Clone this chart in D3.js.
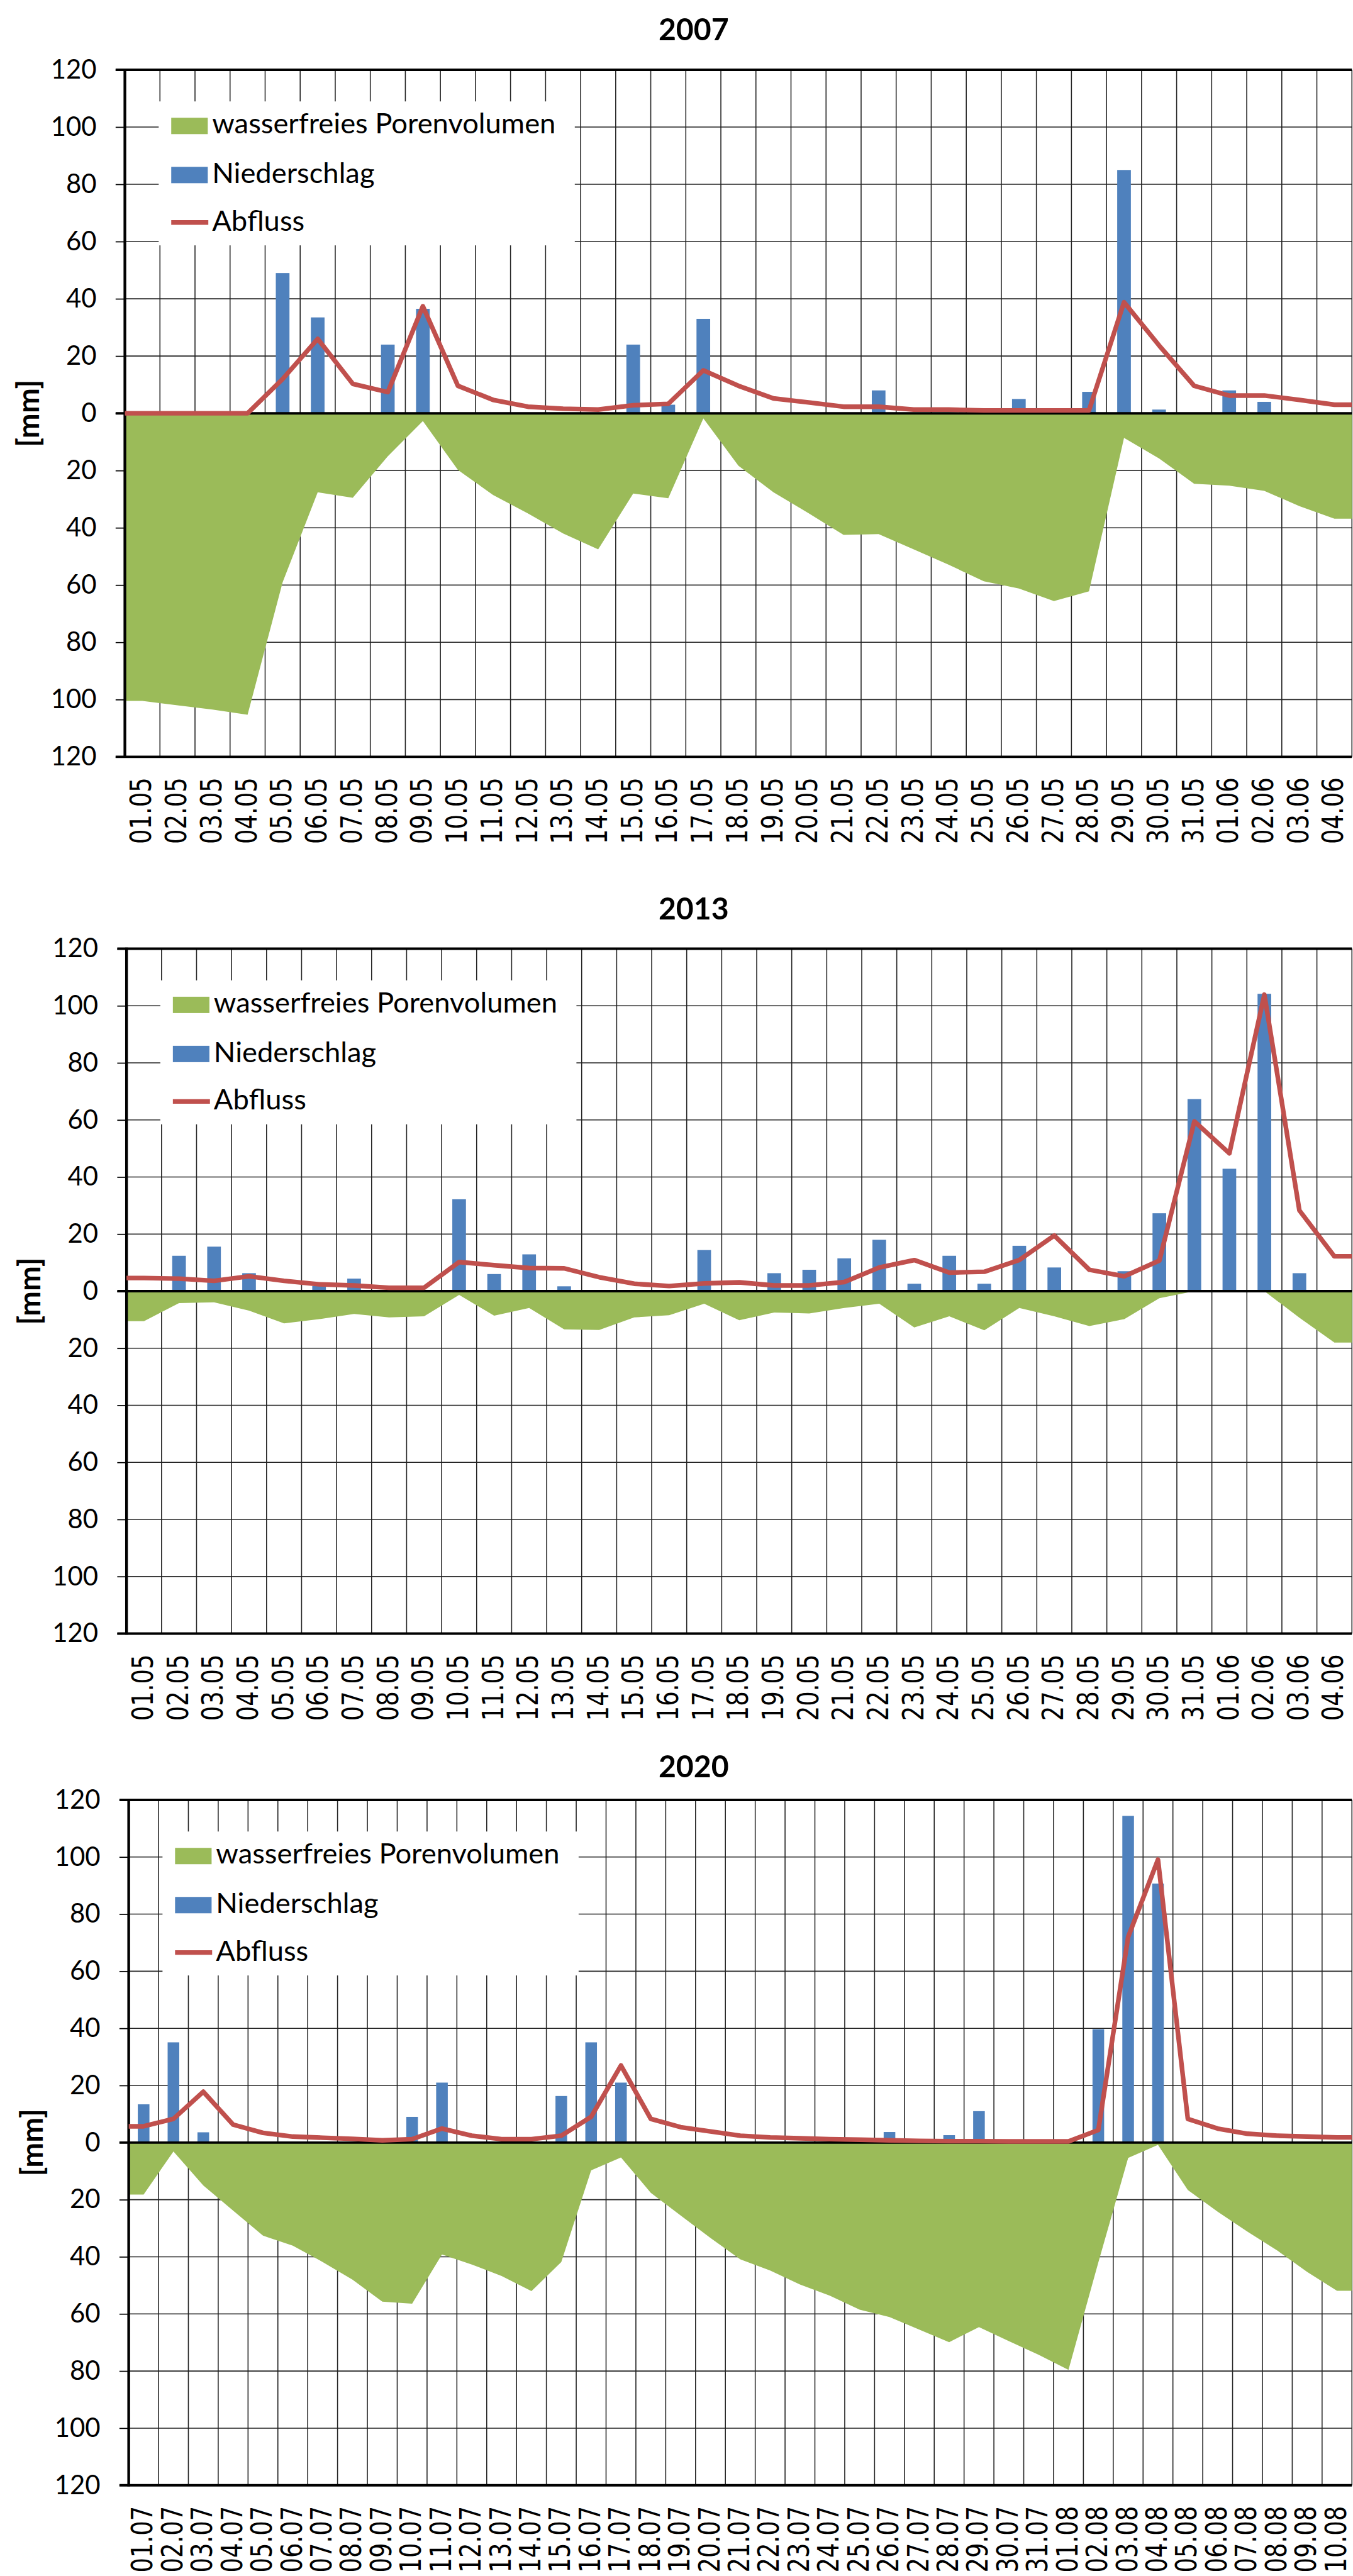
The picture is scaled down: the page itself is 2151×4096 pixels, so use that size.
<!DOCTYPE html>
<html><head><meta charset="utf-8">
<script src="https://cdn.jsdelivr.net/npm/d3@7/dist/d3.min.js"></script>
<style>html,body{margin:0;padding:0;background:#fff}svg{display:block}</style>
</head><body>
<script>
// ---------------- DATA ----------------
const titles = ["2007", "2013", "2020"];
const seriesNames = ["wasserfreies Porenvolumen", "Niederschlag", "Abfluss"];
const yTickValues = [-120, -100, -80, -60, -40, -20, 0, 20, 40, 60, 80, 100, 120];
const yAxisTitle = "[mm]";

const categories2007 = ["01.05","02.05","03.05","04.05","05.05","06.05","07.05","08.05","09.05","10.05",
  "11.05","12.05","13.05","14.05","15.05","16.05","17.05","18.05","19.05","20.05","21.05","22.05","23.05",
  "24.05","25.05","26.05","27.05","28.05","29.05","30.05","31.05","01.06","02.06","03.06","04.06"];
const niederschlag2007 = [0,0,0,0,49,33.5,0,24,36.5,0,0,0,0,0,24,3,33,0,0,0,0,8,0,0,0,5,0,7.5,85,1.3,0,8,4,0,0];
const abfluss2007 = [0,0,0,0,12,26,10.3,7.4,37.4,9.6,4.7,2.3,1.6,1.3,2.8,3.3,15,9.6,5.2,3.8,2.3,2.3,1.3,1.3,1.0,1.0,1.0,1.0,38.8,23.7,9.6,6.2,6.2,4.7,3.0];
const poren2007 = [100.5,102,103.5,105.3,59,27.6,29.5,15,2.7,19.8,28.5,35,42,47.5,28,29.7,1.8,18.3,27.6,34.9,42.5,42.2,47.5,52.9,58.7,61.2,65.6,62.2,8.6,15.8,24.6,25.3,27.1,32.4,36.8];

const categories2013 = ["01.05","02.05","03.05","04.05","05.05","06.05","07.05","08.05","09.05","10.05",
  "11.05","12.05","13.05","14.05","15.05","16.05","17.05","18.05","19.05","20.05","21.05","22.05","23.05",
  "24.05","25.05","26.05","27.05","28.05","29.05","30.05","31.05","01.06","02.06","03.06","04.06"];
const niederschlag2013 = [0,12.4,15.6,6.3,0,1.8,4.4,0,0,32.2,6.0,12.9,1.7,0,0,0,14.4,0.3,6.3,7.5,11.5,18.0,2.6,12.4,2.6,15.9,8.3,0.3,7.0,27.3,67.3,42.9,104.2,6.3,0];
const abfluss2013 = [4.6,4.4,3.6,5.2,3.6,2.4,2.0,1.2,1.2,10.2,9.1,8.1,8.0,4.9,2.6,1.8,2.7,3.1,2.0,2.0,3.2,8.3,10.9,6.5,6.8,10.9,19.5,7.5,5.2,10.7,59.5,48.3,103.9,28.3,12.2];
const poren2013 = [10.5,4.2,3.9,6.8,11.3,9.8,8.0,9.2,8.8,1.3,8.6,5.9,13.4,13.6,9.2,8.4,4.4,10.2,7.5,7.8,5.9,4.4,12.7,8.8,13.7,5.9,8.8,12.2,9.8,2.5,0,0,0,9.3,18];

const categories2020 = ["01.07","02.07","03.07","04.07","05.07","06.07","07.07","08.07","09.07","10.07",
  "11.07","12.07","13.07","14.07","15.07","16.07","17.07","18.07","19.07","20.07","21.07","22.07","23.07",
  "24.07","25.07","26.07","27.07","28.07","29.07","30.07","31.07","01.08","02.08","03.08","04.08","05.08",
  "06.08","07.08","08.08","09.08","10.08"];
const niederschlag2020 = [13.4,35.1,3.6,0,0,0,0,0,0,9.0,21.0,0,0,0,16.3,35.1,21.0,0,0,0,0,0,0,0,0,3.7,0,2.6,11.0,0,0,0,39.7,114.4,90.7,0,0,0,0,0,0];
const abfluss2020 = [5.7,8.3,17.8,6.3,3.4,2.1,1.7,1.3,0.8,1.2,4.9,2.4,1.2,1.2,2.4,9.0,27.0,8.3,5.4,3.9,2.4,1.8,1.5,1.2,1.0,0.8,0.6,0.5,0.5,0.4,0.4,0.4,4.4,72,99.1,8.3,4.9,3.1,2.4,2.1,1.8];
const poren2020 = [18.2,3.1,15,23.8,32.6,36.1,41.8,48.0,55.7,56.4,39.2,42.7,46.7,52.0,41.8,9.7,5.2,17.6,25.5,33.4,40.9,44.8,49.7,53.6,58.5,61.1,65.5,69.9,64.6,69.5,74.3,79.6,42,5.4,0.8,16.6,24.2,31.2,37.8,45.3,51.9];

// ---------------- LAYOUT (reference pixel units) ----------------
const S = 2151 / 2481;
const COL = { pore: "#9BBB59", rain: "#4F81BD", flow: "#C0504D", grid: "#222" };
const layout = [
  { left: 229, top: 128,  bottom: 1388, titleBase: 74 },
  { left: 232, top: 1740, bottom: 2996, titleBase: 1686 },
  { left: 236, top: 3301, bottom: 4558, titleBase: 3260 }
];
const plotRight = 2479;
const charts = [
  { title: titles[0], cats: categories2007, rain: niederschlag2007, flow: abfluss2007, pore: poren2007 },
  { title: titles[1], cats: categories2013, rain: niederschlag2013, flow: abfluss2013, pore: poren2013 },
  { title: titles[2], cats: categories2020, rain: niederschlag2020, flow: abfluss2020, pore: poren2020 }
];

const svg = d3.select("body").append("svg").attr("width", 2151).attr("height", 4096);
svg.append("rect").attr("width", 2151).attr("height", 4096).attr("fill", "#fff");
const root = svg.append("g").attr("transform", `scale(${S})`);

function measure(str, family, weight, size) {
  const t = root.append("text").attr("font-family", family).attr("font-weight", weight)
    .attr("font-size", size).text(str);
  const w = t.node().getComputedTextLength();
  t.remove();
  return w;
}
const SANS = "Lato, 'Open Sans', sans-serif";
const legendFS = 100 * 630 / measure(seriesNames[0], SANS, 400, 100);
const tickFS = 100 * 84 / measure("120", SANS, 400, 100);
const titleFS = 100 * 129 / measure("2007", SANS, 700, 100);
const mmFS = 100 * 124 / measure(yAxisTitle, SANS, 700, 100);
const XFS = 54;

charts.forEach((c, ci) => {
  const L = layout[ci];
  const g = root.append("g");
  const x = d3.scaleBand().domain(c.cats).range([L.left, plotRight]).paddingInner(0).paddingOuter(0);
  const bw = x.bandwidth();
  const y = d3.scaleLinear().domain([-120, 120]).range([L.bottom, L.top]);
  const cx = d => x(d) + bw / 2;

  // title
  g.append("text").attr("x", 1272).attr("y", L.titleBase).attr("text-anchor", "middle")
    .attr("font-family", SANS).attr("font-weight", 700).attr("font-size", titleFS).text(c.title);

  // vertical gridlines at category boundaries
  const bounds = c.cats.slice(1).map(d => x(d)).concat([x.range()[1]]);
  g.append("g").selectAll("line").data(bounds).join("line")
    .attr("x1", d => d).attr("x2", d => d).attr("y1", y(120)).attr("y2", y(-120))
    .attr("stroke", COL.grid).attr("stroke-width", 1.8);
  // horizontal gridlines
  g.append("g").selectAll("line").data(yTickValues.filter(v => Math.abs(v) !== 120 && v !== 0)).join("line")
    .attr("x1", L.left).attr("x2", plotRight).attr("y1", d => y(d)).attr("y2", d => y(d))
    .attr("stroke", COL.grid).attr("stroke-width", 1.8);

  // legend box (covers gridlines)
  const lg = g.append("g");
  lg.append("rect").attr("x", L.left + 62).attr("y", L.top + 58).attr("width", 763).attr("height", 264).attr("fill", "#fff");

  // area (wasserfreies Porenvolumen) plotted downward
  const poreData = [{ px: x.range()[0], v: c.pore[0] }]
    .concat(c.cats.map((d, i) => ({ px: cx(d), v: c.pore[i] })))
    .concat([{ px: x.range()[1], v: c.pore[c.pore.length - 1] }]);
  const area = d3.area().x(d => d.px).y0(y(0)).y1(d => y(-d.v));
  g.append("path").datum(poreData).attr("d", area).attr("fill", COL.pore);

  // bars (Niederschlag)
  const barW = bw * 0.39;
  g.append("g").selectAll("rect").data(c.cats.map((d, i) => ({ d, v: c.rain[i] })).filter(o => o.v > 0)).join("rect")
    .attr("x", o => cx(o.d) - barW / 2).attr("width", barW)
    .attr("y", o => y(o.v)).attr("height", o => y(0) - y(o.v)).attr("fill", COL.rain);

  // y axis ticks + labels
  const yAxis = d3.axisLeft(y).tickValues(yTickValues).tickSize(17).tickPadding(35).tickFormat(v => Math.abs(v));
  const ax = g.append("g").attr("transform", `translate(${L.left},0)`).call(yAxis);
  ax.select(".domain").remove();
  ax.selectAll(".tick line").attr("stroke", "#000").attr("stroke-width", 2);
  ax.selectAll(".tick text").attr("font-family", SANS).attr("font-size", tickFS).attr("fill", "#000");

  // thick horizontal lines at 120 / 0 / -120
  g.append("g").selectAll("line").data([120, 0, -120]).join("line")
    .attr("x1", L.left - 17).attr("x2", plotRight).attr("y1", d => y(d)).attr("y2", d => y(d))
    .attr("stroke", "#000").attr("stroke-width", 4.5);
  // left axis line
  g.append("line").attr("x1", L.left).attr("x2", L.left).attr("y1", y(120) - 2).attr("y2", y(-120) + 2)
    .attr("stroke", "#000").attr("stroke-width", 5);

  // Abfluss line
  const flowData = [{ px: x.range()[0], v: c.flow[0] }]
    .concat(c.cats.map((d, i) => ({ px: cx(d), v: c.flow[i] })))
    .concat([{ px: x.range()[1], v: c.flow[c.flow.length - 1] }]);
  const line = d3.line().x(d => d.px).y(d => y(d.v));
  g.append("path").datum(flowData).attr("d", line).attr("fill", "none")
    .attr("stroke", COL.flow).attr("stroke-width", 8.5).attr("stroke-linejoin", "round");

  // x labels (rotated)
  g.append("g").selectAll("text").data(c.cats).join("text")
    .attr("transform", d => `translate(${cx(d)},${L.bottom + 38}) rotate(-90)`)
    .attr("text-anchor", "end").attr("dy", XFS * 0.3)
    .attr("font-family", "'DejaVu Sans', sans-serif").attr("font-size", XFS)
    .attr("textLength", 122).attr("lengthAdjust", "spacingAndGlyphs")
    .attr("fill", "#000").text(d => d);

  // y axis title
  g.append("text").attr("transform", `translate(${L.left - 177},${y(0)}) rotate(-90)`)
    .attr("text-anchor", "middle").attr("dy", "0.35em")
    .attr("font-family", SANS).attr("font-weight", 700).attr("font-size", mmFS).text(yAxisTitle);

  // legend entries
  const sx = L.left + 85;
  lg.raise();
  lg.append("rect").attr("x", sx).attr("y", L.top + 88).attr("width", 67).attr("height", 30).attr("fill", COL.pore);
  lg.append("rect").attr("x", sx).attr("y", L.top + 178).attr("width", 67).attr("height", 30).attr("fill", COL.rain);
  lg.append("line").attr("x1", sx).attr("x2", sx + 68).attr("y1", L.top + 280).attr("y2", L.top + 280)
    .attr("stroke", COL.flow).attr("stroke-width", 8.5);
  const ty = [L.top + 117, L.top + 208, L.top + 295];
  seriesNames.forEach((n, i) => {
    lg.append("text").attr("x", L.left + 160).attr("y", ty[i]).attr("font-family", SANS)
      .attr("font-size", legendFS).attr("fill", "#000").text(n);
  });
});
</script>
</body></html>
